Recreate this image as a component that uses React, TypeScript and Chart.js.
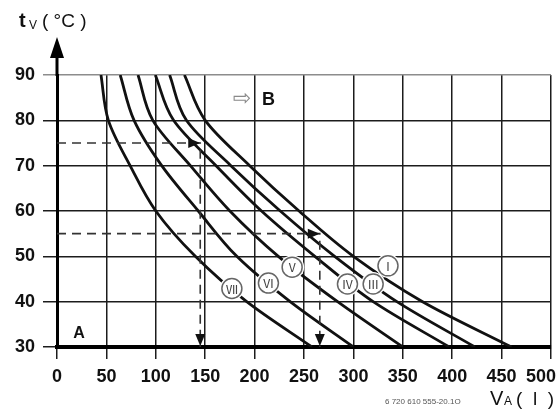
import { useEffect, useRef } from 'react';
import { Chart, registerables } from 'chart.js';

Chart.register(...registerables);

// Flow temperature levels (°C) at which each curve was read
const TEMPERATURES = [90, 80, 70, 60, 50, 40, 30];

// Volume (l) per curve at each temperature level above
const VOLUME_I = [129, 150, 195, 245, 300, 370, 460];
const VOLUME_III = [114, 131, 176, 226, 281, 344, 423];
const VOLUME_IV = [99.5, 118, 161, 207, 261, 320, 397];
const VOLUME_V = [82, 97, 135, 175, 224, 284, 350];
const VOLUME_VI = [64, 78, 106, 143, 182, 236, 300];
const VOLUME_VII = [44.5, 52, 74, 100, 140, 192, 258];

const CURVE_NAMES = ['Ⅰ', 'Ⅲ', 'Ⅳ', 'Ⅴ', 'Ⅵ', 'Ⅶ'];
const CURVE_VOLUMES = [VOLUME_I, VOLUME_III, VOLUME_IV, VOLUME_V, VOLUME_VI, VOLUME_VII];

// Where each curve's badge sits (volume, temperature)
const BADGE_VOLUMES = [335, 320, 294, 238, 214, 177];
const BADGE_TEMPS = [47.9, 43.9, 43.9, 47.6, 44.1, 42.9];

// Worked examples: read across at a temperature, then down to the volume
const EXAMPLE_TEMPS = [75, 55];
const EXAMPLE_VOLUMES = [145, 266];

const X_MIN = 0;
const X_MAX = 500;
const X_STEP = 50;
const Y_MIN = 30;
const Y_MAX = 90;
const Y_STEP = 10;

const SANS = '"Liberation Sans", Arial, Helvetica, sans-serif';

function arrowHead(ctx: CanvasRenderingContext2D, x: number, y: number, dir: 'right' | 'down') {
  const len = 12;
  const half = 5;
  ctx.beginPath();
  if (dir === 'right') {
    ctx.moveTo(x, y);
    ctx.lineTo(x - len, y - half);
    ctx.lineTo(x - len, y + half);
  } else {
    ctx.moveTo(x, y);
    ctx.lineTo(x - half, y - len);
    ctx.lineTo(x + half, y - len);
  }
  ctx.closePath();
  ctx.fill();
}

const overlayPlugin = {
  id: 'overlay',
  afterDatasetsDraw(chart: any) {
    const { ctx, chartArea } = chart;
    const xs = chart.scales.x;
    const ys = chart.scales.y;
    ctx.save();

    // arrow heads on the worked examples
    ctx.fillStyle = '#111';
    EXAMPLE_TEMPS.forEach((t, i) => {
      const px = xs.getPixelForValue(EXAMPLE_VOLUMES[i]);
      arrowHead(ctx, px, ys.getPixelForValue(t), 'right');
      arrowHead(ctx, px, ys.getPixelForValue(Y_MIN) - 1, 'down');
    });

    // curve badges
    CURVE_NAMES.forEach((name, i) => {
      const cx = xs.getPixelForValue(BADGE_VOLUMES[i]);
      const cy = ys.getPixelForValue(BADGE_TEMPS[i]);
      ctx.fillStyle = '#fff';
      ctx.beginPath();
      ctx.arc(cx, cy, 12, 0, Math.PI * 2);
      ctx.fill();
      ctx.strokeStyle = '#666';
      ctx.lineWidth = 1.5;
      ctx.beginPath();
      ctx.arc(cx, cy, 10, 0, Math.PI * 2);
      ctx.stroke();
      ctx.fillStyle = '#444';
      ctx.font = '12px "Noto Sans CJK JP", "DejaVu Serif", serif';
      ctx.textAlign = 'center';
      ctx.textBaseline = 'middle';
      ctx.fillText(name, cx, cy + 0.5);
    });

    // vertical axis continues upward into an arrow
    const ax = chartArea.left;
    ctx.strokeStyle = '#000';
    ctx.lineWidth = 3;
    ctx.beginPath();
    ctx.moveTo(ax, chartArea.top + 1);
    ctx.lineTo(ax, 55);
    ctx.stroke();
    ctx.fillStyle = '#000';
    ctx.beginPath();
    ctx.moveTo(ax, 37);
    ctx.lineTo(ax - 7, 58);
    ctx.lineTo(ax + 7, 58);
    ctx.closePath();
    ctx.fill();

    ctx.restore();
  },
  afterDraw(chart: any) {
    const { ctx } = chart;
    ctx.save();
    ctx.textAlign = 'left';
    ctx.textBaseline = 'alphabetic';
    ctx.fillStyle = '#111';

    // vertical axis title
    ctx.font = `bold 20px ${SANS}`;
    ctx.fillText('t', 19, 27);
    ctx.font = `12px ${SANS}`;
    ctx.fillText('V', 29, 29);
    ctx.font = `19px ${SANS}`;
    ctx.fillText('( °C )', 42, 27);

    // horizontal axis title
    ctx.font = `20px ${SANS}`;
    ctx.fillText('V', 490, 405);
    ctx.font = `12px ${SANS}`;
    ctx.fillText('A', 504, 405);
    ctx.font = `19px ${SANS}`;
    ctx.fillText('(  l  )', 516, 405);

    // region markers
    ctx.font = `bold 16px ${SANS}`;
    ctx.textAlign = 'center';
    ctx.fillText('A', 79, 338);
    ctx.textAlign = 'left';
    ctx.font = `bold 18px ${SANS}`;
    ctx.fillText('B', 262, 105);
    ctx.fillStyle = '#8a8a8a';
    ctx.font = '22px "DejaVu Sans", sans-serif';
    ctx.textAlign = 'center';
    ctx.textBaseline = 'middle';
    ctx.fillText('⇨', 242, 99);

    // drawing number
    ctx.fillStyle = '#555';
    ctx.font = `8px ${SANS}`;
    ctx.textAlign = 'left';
    ctx.textBaseline = 'alphabetic';
    ctx.fillText('6 720 610 555-20.1O', 385, 404);

    ctx.restore();
  },
};

export default function App() {
  const canvasRef = useRef<HTMLCanvasElement>(null);

  useEffect(() => {
    const canvas = canvasRef.current;
    if (!canvas) return;

    // Curves are interpolated along the temperature axis (indexAxis 'y')
    const curveSets = CURVE_VOLUMES.map((vols, i) => ({
      label: CURVE_NAMES[i],
      data: vols.map((v, j) => ({ x: v, y: TEMPERATURES[j] })),
      borderColor: '#111',
      borderWidth: 2.8,
      pointRadius: 0,
      cubicInterpolationMode: 'monotone' as const,
      fill: false,
    }));

    const guideSets = EXAMPLE_TEMPS.map((t, i) => ({
      label: `guide ${t}`,
      data: [
        { x: X_MIN, y: t },
        { x: EXAMPLE_VOLUMES[i], y: t },
        { x: EXAMPLE_VOLUMES[i], y: Y_MIN },
      ],
      borderColor: '#333',
      borderWidth: 1.6,
      borderDash: [9, 6],
      pointRadius: 0,
      tension: 0,
      fill: false,
    }));

    const tickFont = { family: SANS, size: 18, weight: 'bold' as const };
    const gridColor = (c: any) => (c.tick && c.tick.value === Y_MAX && c.scale.axis === 'y' ? '#8c8c8c' : '#1c1c1c');

    const chart = new Chart(canvas, {
      type: 'line',
      data: { datasets: [...guideSets, ...curveSets] as any },
      options: {
        indexAxis: 'y',
        animation: false,
        responsive: false,
        events: [],
        layout: { padding: { top: 75, right: 8, left: 0, bottom: 0 } },
        plugins: { legend: { display: false }, tooltip: { enabled: false } },
        scales: {
          x: {
            type: 'linear',
            position: 'bottom',
            min: X_MIN,
            max: X_MAX,
            ticks: {
              stepSize: X_STEP,
              padding: 7,
              color: '#111',
              font: tickFont,
              maxRotation: 0,
              autoSkip: false,
              callback: (v: any) => (v === X_MAX ? `${v}\u00a0\u00a0\u00a0\u00a0` : `${v}`),
            },
            grid: { color: gridColor, lineWidth: 1.5, tickLength: 12 },
            border: { display: true, color: '#000', width: 4 },
            afterFit: (s: any) => {
              s.height = 62;
              s.paddingLeft = 0;
              s.paddingRight = 0;
            },
          },
          y: {
            type: 'linear',
            position: 'left',
            min: Y_MIN,
            max: Y_MAX,
            ticks: { stepSize: Y_STEP, padding: 8, color: '#111', font: tickFont },
            grid: { color: gridColor, lineWidth: 1.5, tickLength: 14 },
            border: { display: true, color: '#000', width: 3 },
            afterFit: (s: any) => {
              s.width = 57;
              s.paddingTop = 0;
              s.paddingBottom = 0;
            },
          },
        },
      },
      plugins: [overlayPlugin],
    });

    return () => chart.destroy();
  }, []);

  return (
    <div style={{ position: 'fixed', left: 0, top: 0, width: 559, height: 409, background: '#fff' }}>
      <canvas ref={canvasRef} width={559} height={409} style={{ display: 'block' }} />
    </div>
  );
}
